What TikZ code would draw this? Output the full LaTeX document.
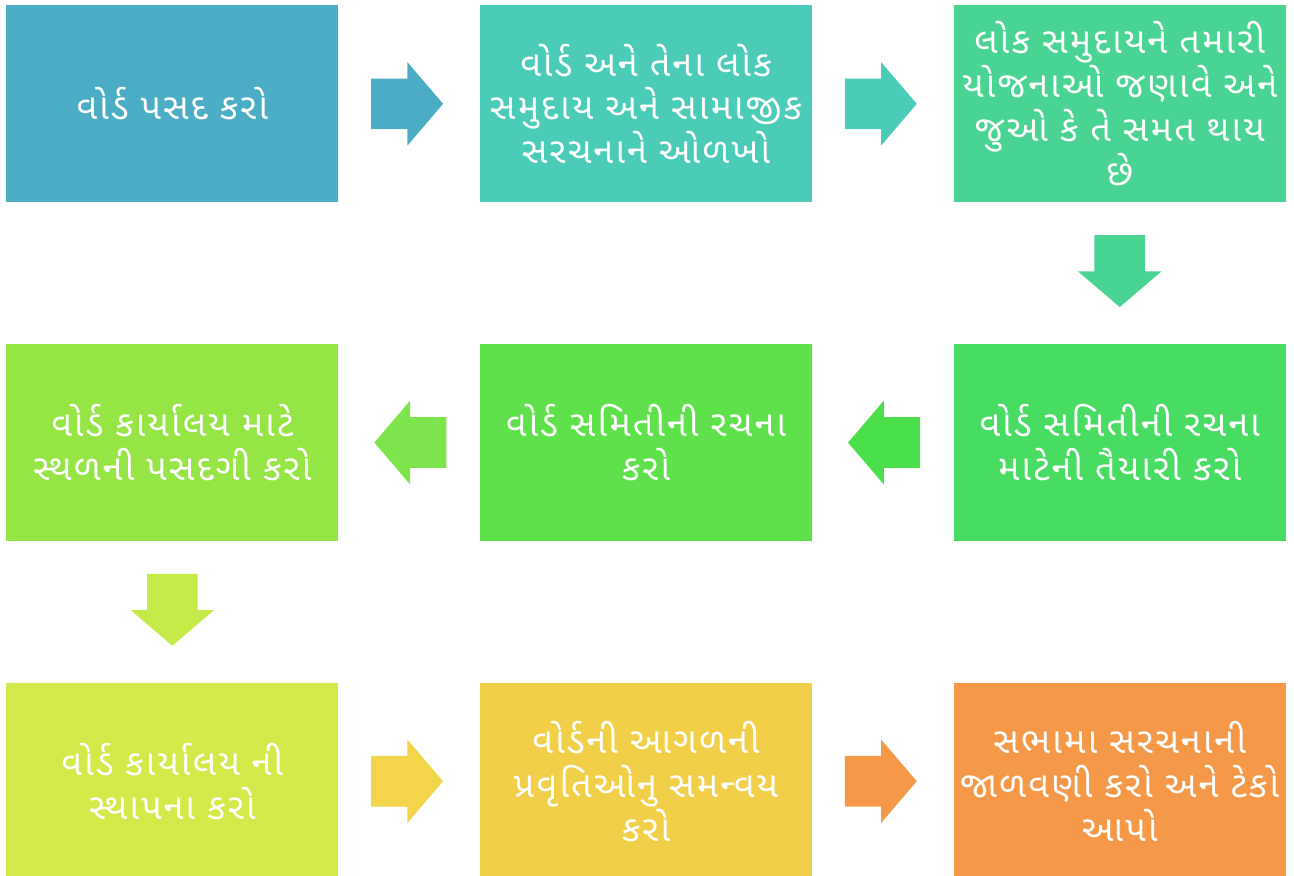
\documentclass[tikz,border=0pt]{standalone}
\usepackage{fontspec}
\newfontfamily\gujfont[Script=Gujarati, LetterSpace=6, WordSpace=1.8]{Noto Sans Gujarati UI}
\usetikzlibrary{positioning,calc,shapes.arrows}

\definecolor{cbA}{HTML}{4BACC6}
\definecolor{cbB}{HTML}{4BCCB9}
\definecolor{cbC}{HTML}{4AD493}
\definecolor{cbD}{HTML}{48DC62}
\definecolor{caD}{HTML}{4ADE4B}
\definecolor{cbE}{HTML}{5FE14B}
\definecolor{caE}{HTML}{7DE44B}
\definecolor{cbF}{HTML}{95E545}
\definecolor{caF}{HTML}{C4EB48}
\definecolor{cbG}{HTML}{D4EA4A}
\definecolor{caG}{HTML}{F2D54A}
\definecolor{cbH}{HTML}{F2CF48}
\definecolor{cbI}{HTML}{F59848}

\begin{document}
\begin{tikzpicture}[
  node distance=2.82cm,
  stepbox/.style={rectangle, inner sep=0pt, minimum width=6.64cm, minimum height=3.94cm,
    text width=6.6cm, align=center, text=white, font=\gujfont\fontsize{20.5}{25}\selectfont},
  blockarrow/.style={single arrow, draw=none, anchor=tail, inner xsep=0pt, inner ysep=0.5cm,
    single arrow head extend=0.33cm, single arrow tip angle=99, minimum height=1.44cm}
]
\useasboundingbox (0,0) rectangle (25.88,-17.52);
% first row
\node[stepbox, fill=cbA, anchor=north west] (choose) at (0.12,-0.10) {વોર્ડ પસદ કરો};
\node[stepbox, fill=cbB, right=of choose] (identify) {વોર્ડ અને તેના લોક\\સમુદાય અને સામાજીક\\સરચનાને ઓળખો};
\node[stepbox, fill=cbC, right=of identify] (inform) {લોક સમુદાયને તમારી\\યોજનાઓ જણાવે અને\\જુઓ કે તે સમત થાય\\છે};
% second row
\node[stepbox, fill=cbD, below=of inform] (prepare) {વોર્ડ સમિતીની રચના\\માટેની તૈયારી કરો};
\node[stepbox, fill=cbE, left=of prepare] (committee) {વોર્ડ સમિતીની રચના\\કરો};
\node[stepbox, fill=cbF, left=of committee] (place) {વોર્ડ કાર્યાલય માટે\\સ્થળની પસદગી કરો};
% third row
\node[stepbox, fill=cbG, below=of place] (office) {વોર્ડ કાર્યાલય ની\\સ્થાપના કરો};
\node[stepbox, fill=cbH, right=of office] (coord) {વોર્ડની આગળની\\પ્રવૃતિઓનુ સમન્વય\\કરો};
\node[stepbox, fill=cbI, right=of coord] (support) {સભામા સરચનાની\\જાળવણી કરો અને ટેકો\\આપો};
% arrows
\node[blockarrow, fill=cbA] (ab) at ($(choose.east)+(0.64,0)$) {};
\node[blockarrow, fill=cbB] (bc) at ($(identify.east)+(0.64,0)$) {};
\node[blockarrow, fill=cbC, rotate=-90] (cd) at ($(inform.south)+(0,-0.64)$) {};
\node[blockarrow, fill=caD, rotate=180] (de) at ($(prepare.west)+(-0.66,0)$) {};
\node[blockarrow, fill=caE, rotate=180] (ef) at ($(committee.west)+(-0.66,0)$) {};
\node[blockarrow, fill=caF, rotate=-90] (fg) at ($(place.south)+(0,-0.64)$) {};
\node[blockarrow, fill=caG] (gh) at ($(office.east)+(0.64,0)$) {};
\node[blockarrow, fill=cbI] (hi) at ($(coord.east)+(0.64,0)$) {};
\end{tikzpicture}
\end{document}
